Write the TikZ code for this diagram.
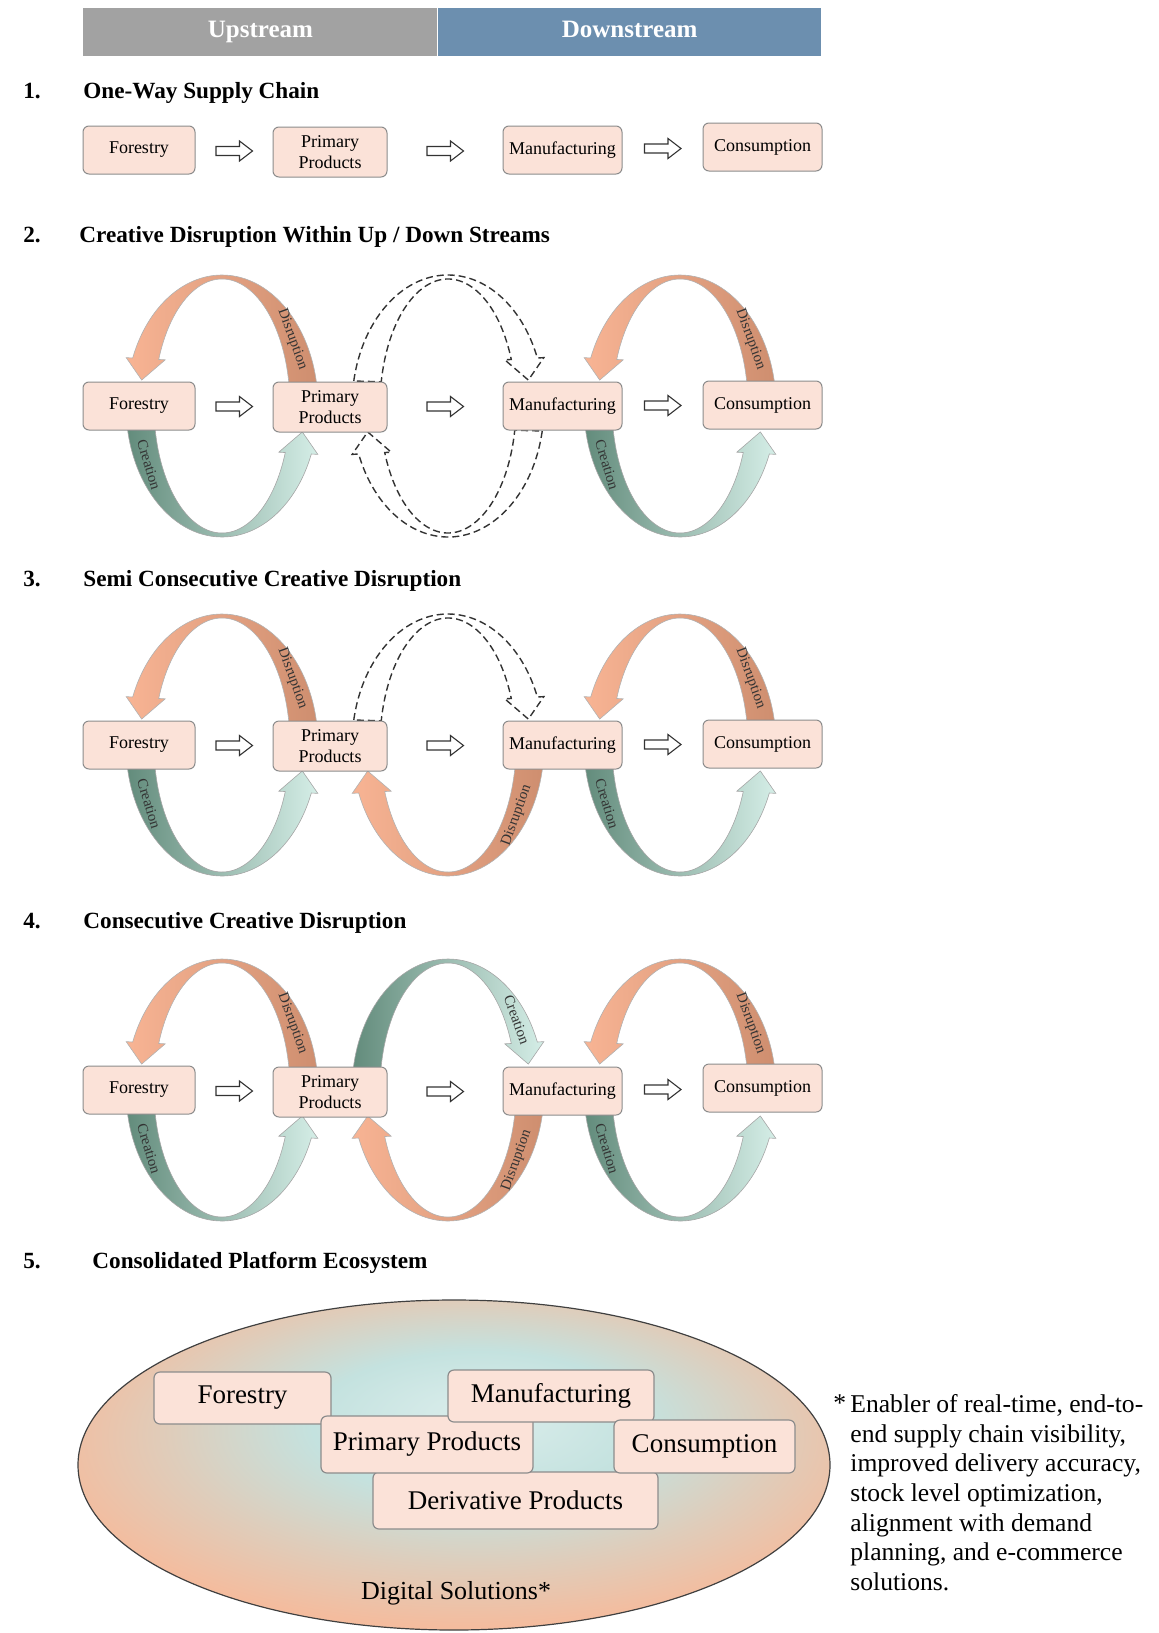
\documentclass[tikz,border=0pt]{standalone}
\usepackage{fontspec}
\setmainfont{Liberation Serif}
\usetikzlibrary{calc}

\definecolor{boxfill}{HTML}{FBE2D8}
\definecolor{boxline}{HTML}{8C8C8C}
\definecolor{upgray}{HTML}{A2A2A2}
\definecolor{downblue}{HTML}{6C8FAF}
\definecolor{orangeL}{HTML}{F8B494}
\definecolor{orangeR}{HTML}{CE8E6F}
\definecolor{greenL}{HTML}{628B7B}
\definecolor{greenR}{HTML}{D5EEE7}
\definecolor{ellteal}{HTML}{C4E2DF}
\definecolor{ellpeach}{HTML}{F4BC9E}

\pgfdeclareradialshading{ecosys}{\pgfpoint{2bp}{8bp}}{color(0bp)=(ellteal!60!white); color(11bp)=(ellteal); color(20bp)=(ellpeach!55!ellteal); color(28bp)=(ellpeach); color(50bp)=(ellpeach)}

\newcommand{\loopband}[5]{%
  \path[#5] (#1) ++(#2:96 and 131)
    arc[start angle=#2, end angle=#3, x radius=96, y radius=131]
    -- ($(#1)+(#3:103 and 132)$) -- ($(#1)+(#4:82 and 129)$)
    -- ($(#1)+(#3:61 and 126)$) -- ($(#1)+(#3:68 and 127)$)
    arc[start angle=#3, end angle=#2, x radius=68, y radius=127] -- cycle;}

\newcommand{\hollowarrow}[1]{%
  \draw[fwd] ($(#1)+(-18,-4.5)$) -- ($(#1)+(5.5,-4.5)$) -- ($(#1)+(5.5,-10)$)
    -- ($(#1)+(18.5,0)$) -- ($(#1)+(5.5,10)$) -- ($(#1)+(5.5,4.5)$)
    -- ($(#1)+(-18,4.5)$) -- cycle;}

\begin{document}
\begin{tikzpicture}[x=0.5pt, y=0.5pt,
  stage/.style={draw=boxline, fill=boxfill, rounded corners=3pt, line width=0.5pt, inner sep=0pt, align=center, minimum height=24pt, font=\fontsize{9}{10.5}\selectfont},
  fwd/.style={draw=black!80, fill=white, line width=0.55pt, line join=miter},
  bar/.style={anchor=west, minimum height=24pt, inner sep=0pt, text=white, text height=8.5pt, text depth=2.5pt, font=\bfseries\fontsize{12.5}{14}\selectfont},
  disrupt/.style={left color=orangeL, right color=orangeR, draw=gray!60, line width=0.3pt},
  create/.style={left color=greenL, right color=greenR, draw=gray!70, line width=0.3pt},
  ghost/.style={draw=black!80, dash pattern=on 3.5pt off 2pt, line width=0.7pt},
  tag/.style={font=\fontsize{7.4}{8}\selectfont, text=black!80, inner sep=0pt},
  heading/.style={anchor=west, inner sep=0pt, text height=8pt, text depth=2.5pt, font=\bfseries\fontsize{11.6}{13}\selectfont},
  hub/.style={draw=boxline, fill=boxfill, rounded corners=3pt, line width=0.6pt, inner sep=0pt, minimum height=26pt, font=\fontsize{13.5}{15}\selectfont}]

\useasboundingbox (0,0) rectangle (1159,-1633);

\node[bar, fill=upgray, minimum width=177pt] (up) at (83,-32) {Upstream};
\node[bar, fill=downblue, minimum width=191.5pt] (down) at (up.east) {Downstream};

\node[heading] (n1) at (23,-93) {1.};
\node[heading] (t1) at (83,-93) {One-Way Supply Chain};
\node[heading] (n2) at (23,-237) {2.};
\node[heading] (t2) at (79,-237) {Creative Disruption Within Up / Down Streams};
\node[heading] (n3) at (23,-581) {3.};
\node[heading] (t3) at (83,-581) {Semi Consecutive Creative Disruption};
\node[heading] (n4) at (23,-923) {4.};
\node[heading] (t4) at (83,-923) {Consecutive Creative Disruption};
\node[heading] (n5) at (23,-1263) {5.};
\node[heading] (t5) at (92,-1263) {Consolidated Platform Ecosystem};

\coordinate (l21) at (222,-406);
\coordinate (l22) at (448,-406);
\coordinate (l23) at (680,-406);
\coordinate (l31) at (222,-745);
\coordinate (l32) at (448,-745);
\coordinate (l33) at (680,-745);
\coordinate (l41) at (222,-1090);
\coordinate (l42) at (448,-1090);
\coordinate (l43) at (680,-1090);

\loopband{l21}{0}{158.5}{168.4}{disrupt}
\loopband{l21}{180}{338.5}{348.4}{create}
\loopband{l22}{169}{21.5}{11.6}{ghost}
\loopband{l22}{349}{201.5}{191.6}{ghost}
\loopband{l23}{0}{158.5}{168.4}{disrupt}
\loopband{l23}{180}{338.5}{348.4}{create}

\loopband{l31}{0}{158.5}{168.4}{disrupt}
\loopband{l31}{180}{338.5}{348.4}{create}
\loopband{l32}{169}{21.5}{11.6}{ghost}
\loopband{l32}{360}{201.5}{191.6}{disrupt}
\loopband{l33}{0}{158.5}{168.4}{disrupt}
\loopband{l33}{180}{338.5}{348.4}{create}

\loopband{l41}{0}{158.5}{168.4}{disrupt}
\loopband{l41}{180}{338.5}{348.4}{create}
\loopband{l42}{180}{21.5}{11.6}{create}
\loopband{l42}{360}{201.5}{191.6}{disrupt}
\loopband{l43}{0}{158.5}{168.4}{disrupt}
\loopband{l43}{180}{338.5}{348.4}{create}

\node[tag, rotate=-70] (d21) at ($(l21)+(31:82 and 129)$) {Disruption};
\node[tag, rotate=-73] (k21) at ($(l21)+(207:82 and 129)$) {Creation};
\node[tag, rotate=-70] (d23) at ($(l23)+(31:82 and 129)$) {Disruption};
\node[tag, rotate=-73] (k23) at ($(l23)+(207:82 and 129)$) {Creation};
\node[tag, rotate=-70] (d31) at ($(l31)+(31:82 and 129)$) {Disruption};
\node[tag, rotate=-73] (k31) at ($(l31)+(207:82 and 129)$) {Creation};
\node[tag, rotate=70] (d32) at ($(l32)+(327:82 and 129)$) {Disruption};
\node[tag, rotate=-70] (d33) at ($(l33)+(31:82 and 129)$) {Disruption};
\node[tag, rotate=-73] (k33) at ($(l33)+(207:82 and 129)$) {Creation};
\node[tag, rotate=-70] (d41) at ($(l41)+(31:82 and 129)$) {Disruption};
\node[tag, rotate=-73] (k41) at ($(l41)+(207:82 and 129)$) {Creation};
\node[tag, rotate=-70] (k42) at ($(l42)+(33:82 and 129)$) {Creation};
\node[tag, rotate=70] (d42) at ($(l42)+(327:82 and 129)$) {Disruption};
\node[tag, rotate=-70] (d43) at ($(l43)+(31:82 and 129)$) {Disruption};
\node[tag, rotate=-73] (k43) at ($(l43)+(207:82 and 129)$) {Creation};

\node[stage, minimum width=56pt] (f1) at (139,-150) {Forestry};
\node[stage, minimum width=57pt, minimum height=25pt] (p1) at (330,-152) {Primary\\Products};
\node[stage, minimum width=59.5pt] (m1) at (562.5,-150) {Manufacturing};
\node[stage, minimum width=59.5pt] (c1) at (762.5,-147) {Consumption};
\coordinate (a11) at ($(f1.east)!0.5!(p1.west)$);
\coordinate (a12) at ($(p1.east)!0.5!(m1.west)$);
\coordinate (a13) at ($(m1.east)!0.5!(c1.west)$);
\hollowarrow{a11} \hollowarrow{a12} \hollowarrow{a13}

\node[stage, minimum width=56pt] (f2) at (139,-406) {Forestry};
\node[stage, minimum width=57pt, minimum height=25pt] (p2) at (330,-407) {Primary\\Products};
\node[stage, minimum width=59.5pt] (m2) at (562.5,-406) {Manufacturing};
\node[stage, minimum width=59.5pt] (c2) at (762.5,-405) {Consumption};
\coordinate (a21) at ($(f2.east)!0.5!(p2.west)$);
\coordinate (a22) at ($(p2.east)!0.5!(m2.west)$);
\coordinate (a23) at ($(m2.east)!0.5!(c2.west)$);
\hollowarrow{a21} \hollowarrow{a22} \hollowarrow{a23}

\node[stage, minimum width=56pt] (f3) at (139,-745) {Forestry};
\node[stage, minimum width=57pt, minimum height=25pt] (p3) at (330,-746) {Primary\\Products};
\node[stage, minimum width=59.5pt] (m3) at (562.5,-745) {Manufacturing};
\node[stage, minimum width=59.5pt] (c3) at (762.5,-744) {Consumption};
\coordinate (a31) at ($(f3.east)!0.5!(p3.west)$);
\coordinate (a32) at ($(p3.east)!0.5!(m3.west)$);
\coordinate (a33) at ($(m3.east)!0.5!(c3.west)$);
\hollowarrow{a31} \hollowarrow{a32} \hollowarrow{a33}

\node[stage, minimum width=56pt] (f4) at (139,-1090) {Forestry};
\node[stage, minimum width=57pt, minimum height=25pt] (p4) at (330,-1092) {Primary\\Products};
\node[stage, minimum width=59.5pt] (m4) at (562.5,-1091) {Manufacturing};
\node[stage, minimum width=59.5pt] (c4) at (762.5,-1088) {Consumption};
\coordinate (a41) at ($(f4.east)!0.5!(p4.west)$);
\coordinate (a42) at ($(p4.east)!0.5!(m4.west)$);
\coordinate (a43) at ($(m4.east)!0.5!(c4.west)$);
\hollowarrow{a41} \hollowarrow{a42} \hollowarrow{a43}

\shadedraw[shading=ecosys, draw=black!75, line width=0.6pt] (454,-1465) ellipse[x radius=376, y radius=165];
\node[hub, minimum width=142.5pt, minimum height=28.5pt] (dp) at (515.5,-1500.5) {Derivative Products};
\node[hub, minimum width=88.5pt] (fo) at (242.5,-1398) {Forestry};
\node[hub, minimum width=106pt, minimum height=28.5pt] (pp) at (427,-1444.5) {Primary Products};
\node[hub, minimum width=103pt] (mf) at (551,-1396) {Manufacturing};
\node[hub, minimum width=90.5pt, minimum height=26.5pt] (cs) at (704.5,-1446.5) {Consumption};
\node[inner sep=0pt, font=\fontsize{13}{15}\selectfont] (ds) at (456,-1593) {Digital Solutions*};

\node[anchor=north west, inner sep=0pt, font=\fontsize{12.8}{14.85}\selectfont] (star) at (833,-1394) {*};
\node[anchor=north west, align=left, inner sep=0pt, font=\fontsize{12.8}{14.85}\selectfont] (note) at (850,-1394) {Enabler of real-time, end-to-\\end supply chain visibility,\\improved delivery accuracy,\\stock level optimization,\\alignment with demand\\planning, and e-commerce\\solutions.};

\end{tikzpicture}
\end{document}
